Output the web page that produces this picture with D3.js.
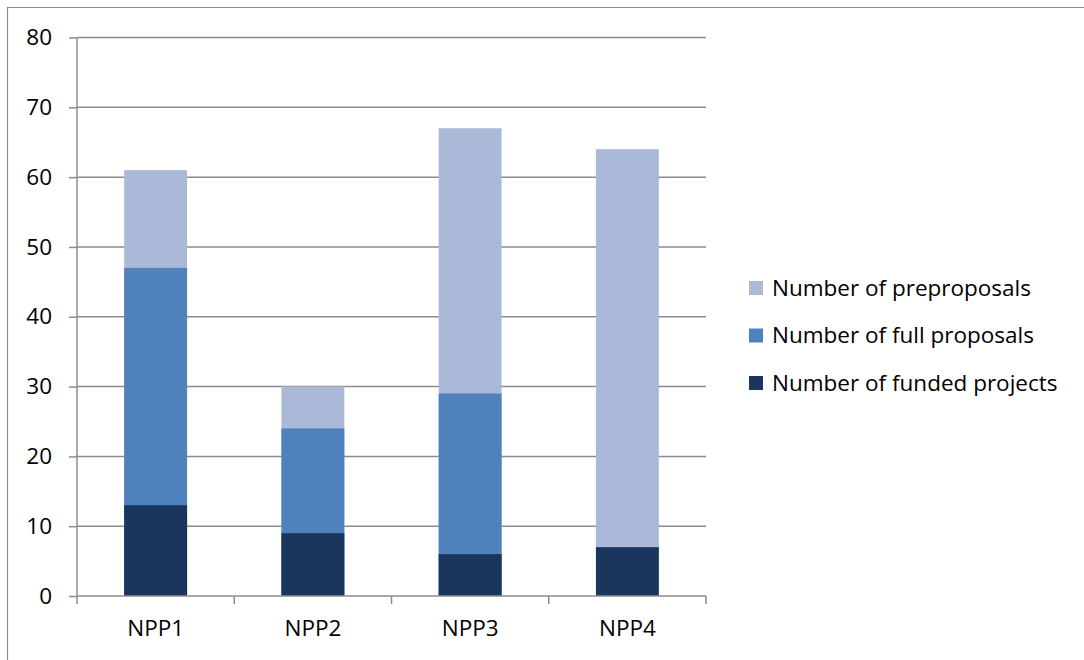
<!DOCTYPE html>
<html><head><meta charset="utf-8">
<script src="https://cdn.jsdelivr.net/npm/d3@7"></script>
<style>
html,body{margin:0;padding:0;background:#fff;}
svg{display:block;font-family:"Open Sans",sans-serif;}
</style></head>
<body><svg id="c" width="1084" height="660"></svg>
<script>
const categories = ["NPP1","NPP2","NPP3","NPP4"];
const seriesNames = ["Number of preproposals","Number of full proposals","Number of funded projects"];
const preproposals = [61,30,67,64];
const fullProposals = [47,24,29,null];
const fundedProjects = [13,9,6,7];
const yTicks = [0,10,20,30,40,50,60,70,80];
const colors = ["#aab9d7","#4f81bd","#1a365d"];
const FONT = "'Open Sans',sans-serif";
const FS = 22.5;

const svg = d3.select("#c");
svg.append("path").attr("d","M7.5,700 V7.5 H1100").attr("fill","none").attr("stroke","#8c8c8c").attr("stroke-width",1.2);

const x0 = 77, x1 = 706, yTop = 37.5, yBot = 596;
const x = d3.scaleBand().domain(categories).range([x0,x1]);
const y = d3.scaleLinear().domain([0,80]).range([yBot,yTop]);

svg.append("g").selectAll("line").data(yTicks.filter(d=>d>0)).join("line")
  .attr("x1",x0).attr("x2",x1).attr("y1",d=>y(d)).attr("y2",d=>y(d))
  .attr("stroke","#8c8c8c").attr("stroke-width",1.5);

const series = [preproposals, fullProposals, fundedProjects];
const bw = x.bandwidth()*0.4;
series.forEach((vals,i)=>{
  svg.append("g").selectAll("rect").data(categories.map((c,j)=>({c,v:vals[j]})).filter(d=>d.v!=null)).join("rect")
    .attr("x",d=>x(d.c)+x.bandwidth()/2-bw/2).attr("width",bw)
    .attr("y",d=>y(d.v)).attr("height",d=>y(0)-y(d.v))
    .attr("fill",colors[i]);
});

const yAxis = svg.append("g").attr("transform",`translate(${x0},0)`)
  .call(d3.axisLeft(y).tickValues(yTicks).tickSize(8).tickPadding(17));
yAxis.select(".domain").attr("stroke","#8c8c8c").attr("stroke-width",1.5).attr("d",`M0,${yTop}V${yBot}`);
yAxis.selectAll(".tick line").attr("stroke","#8c8c8c").attr("stroke-width",1.5);
yAxis.selectAll(".tick text").attr("font-size",FS).attr("fill","#000").attr("font-family",FONT);

const xAxis = svg.append("g").attr("transform",`translate(0,${yBot})`)
  .call(d3.axisBottom(x).tickSize(0).tickPadding(24));
xAxis.select(".domain").attr("stroke","#8c8c8c").attr("stroke-width",1.5).attr("d",`M${x0},0H${x1}`);
xAxis.selectAll(".tick text").attr("font-size",FS).attr("fill","#000").attr("font-family",FONT);
const bounds = categories.map(c=>x(c)).concat([x1]);
svg.append("g").selectAll("line").data(bounds).join("line")
  .attr("x1",d=>d).attr("x2",d=>d).attr("y1",yBot).attr("y2",yBot+8)
  .attr("stroke","#8c8c8c").attr("stroke-width",1.5);

const lg = svg.append("g");
seriesNames.forEach((n,i)=>{
  const cy = 288 + i*47.5;
  lg.append("rect").attr("x",749).attr("y",cy-7).attr("width",14).attr("height",14).attr("fill",colors[i]);
  lg.append("text").attr("x",772).attr("y",cy).attr("dy","0.35em").attr("font-size",FS).attr("font-family",FONT).text(n);
});
</script></body></html>
